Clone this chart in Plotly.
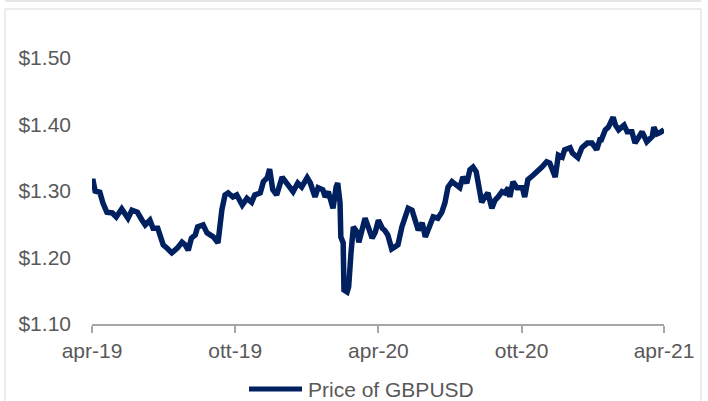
import plotly.graph_objects as go

# ---- data ----
dates = [
    "2019-04-01", "2019-04-02", "2019-04-05", "2019-04-11", "2019-04-15", "2019-04-20",
    "2019-04-27", "2019-05-02", "2019-05-09", "2019-05-17", "2019-05-22", "2019-05-29",
    "2019-06-04", "2019-06-08", "2019-06-14", "2019-06-18", "2019-06-24", "2019-07-01",
    "2019-07-06", "2019-07-12", "2019-07-19", "2019-07-25", "2019-07-29", "2019-08-02",
    "2019-08-06", "2019-08-11", "2019-08-14", "2019-08-21", "2019-08-26", "2019-09-03",
    "2019-09-09", "2019-09-12", "2019-09-14", "2019-09-18", "2019-09-22", "2019-09-28",
    "2019-10-03", "2019-10-10", "2019-10-16", "2019-10-22", "2019-10-26", "2019-11-02",
    "2019-11-06", "2019-11-11", "2019-11-14", "2019-11-18", "2019-11-23", "2019-11-30",
    "2019-12-05", "2019-12-10", "2019-12-14", "2019-12-20", "2019-12-25", "2020-01-01",
    "2020-01-05", "2020-01-11", "2020-01-15", "2020-01-21", "2020-01-24", "2020-01-28",
    "2020-02-03", "2020-02-07", "2020-02-09", "2020-02-12", "2020-02-13", "2020-02-16",
    "2020-02-17", "2020-02-21", "2020-02-23", "2020-02-26", "2020-02-29", "2020-03-05",
    "2020-03-07", "2020-03-11", "2020-03-15", "2020-03-19", "2020-03-24", "2020-03-28",
    "2020-04-01", "2020-04-06", "2020-04-09", "2020-04-13", "2020-04-18", "2020-04-22",
    "2020-04-26", "2020-05-01", "2020-05-05", "2020-05-09", "2020-05-14", "2020-05-18",
    "2020-05-22", "2020-05-27", "2020-05-31", "2020-06-06", "2020-06-10", "2020-06-16",
    "2020-06-21", "2020-06-25", "2020-06-29", "2020-07-04", "2020-07-10", "2020-07-14",
    "2020-07-18", "2020-07-23", "2020-07-27", "2020-07-31", "2020-08-04", "2020-08-06",
    "2020-08-11", "2020-08-15", "2020-08-19", "2020-08-24", "2020-08-28", "2020-09-01",
    "2020-09-06", "2020-09-10", "2020-09-14", "2020-09-16", "2020-09-20", "2020-09-25",
    "2020-10-02", "2020-10-05", "2020-10-09", "2020-10-16", "2020-10-21", "2020-10-27",
    "2020-11-02", "2020-11-06", "2020-11-13", "2020-11-17", "2020-11-22", "2020-11-25",
    "2020-12-02", "2020-12-05", "2020-12-12", "2020-12-17", "2020-12-24", "2020-12-30",
    "2021-01-05", "2021-01-09", "2021-01-11", "2021-01-16", "2021-01-20", "2021-01-26",
    "2021-01-29", "2021-02-02", "2021-02-06", "2021-02-09", "2021-02-13", "2021-02-19",
    "2021-02-23", "2021-02-27", "2021-03-04", "2021-03-10", "2021-03-17", "2021-03-19",
    "2021-03-23", "2021-03-27", "2021-04-01",
]
price_gbpusd = [
    1.312, 1.318, 1.300, 1.298, 1.282, 1.268,
    1.267, 1.261, 1.273, 1.259, 1.271, 1.268,
    1.256, 1.249, 1.256, 1.244, 1.244, 1.219,
    1.214, 1.207, 1.214, 1.223, 1.219, 1.211,
    1.229, 1.234, 1.246, 1.249, 1.237, 1.231,
    1.222, 1.267, 1.272, 1.294, 1.297, 1.291,
    1.294, 1.279, 1.289, 1.283, 1.294, 1.297,
    1.314, 1.320, 1.333, 1.302, 1.294, 1.321,
    1.313, 1.306, 1.299, 1.312, 1.306, 1.320,
    1.312, 1.291, 1.305, 1.302, 1.291, 1.299,
    1.274, 1.306, 1.312, 1.282, 1.231, 1.222,
    1.151, 1.148, 1.156, 1.207, 1.246, 1.238,
    1.223, 1.241, 1.259, 1.246, 1.229, 1.238,
    1.256, 1.244, 1.241, 1.234, 1.213, 1.216,
    1.219, 1.246, 1.261, 1.274, 1.271, 1.253,
    1.241, 1.252, 1.231, 1.249, 1.261, 1.259,
    1.268, 1.282, 1.306, 1.314, 1.309, 1.305,
    1.321, 1.312, 1.332, 1.336, 1.329, 1.312,
    1.283, 1.291, 1.297, 1.274, 1.286, 1.291,
    1.299, 1.297, 1.305, 1.291, 1.314, 1.305,
    1.305, 1.291, 1.317, 1.324, 1.329, 1.336,
    1.344, 1.342, 1.321, 1.354, 1.351, 1.362,
    1.365, 1.357, 1.350, 1.365, 1.372, 1.372,
    1.362, 1.377, 1.377, 1.392, 1.396, 1.411,
    1.399, 1.392, 1.396, 1.399, 1.389, 1.389,
    1.372, 1.380, 1.389, 1.374, 1.382, 1.396,
    1.386, 1.388, 1.392,
]
tick_vals = ["2019-04-01", "2019-10-01", "2020-04-01", "2020-10-01", "2021-04-01"]
tick_text = ["apr-19", "ott-19", "apr-20", "ott-20", "apr-21"]
y_ticks = [1.10, 1.20, 1.30, 1.40, 1.50]
y_tick_text = ["$1.10", "$1.20", "$1.30", "$1.40", "$1.50"]
series_name = "Price of GBPUSD"

# ---- layout geometry ----
W, H = 708, 401
L, R, T, B = 92, 44, 58, 77
PW, PH = W - L - R, H - T - B


def px(p):
    return (p - L) / PW


def py(p):
    return (H - B - p) / PH


NAVY = "#002060"
GREY_TXT = "#595959"
FONT = "Liberation Sans, Arial, sans-serif"

fig = go.Figure()
fig.add_trace(go.Scatter(
    x=dates, y=price_gbpusd, mode="lines", name=series_name,
    line=dict(color=NAVY, width=5.5), showlegend=False,
))

fig.update_layout(
    width=W, height=H,
    margin=dict(l=L, r=R, t=T, b=B, pad=0, autoexpand=False),
    paper_bgcolor="white", plot_bgcolor="white",
    font=dict(family=FONT, size=21, color=GREY_TXT),
    xaxis=dict(
        type="date", range=[tick_vals[0], tick_vals[-1]], automargin=False,
        tickmode="array", tickvals=tick_vals, ticktext=tick_text,
        showgrid=False, zeroline=False,
        showline=True, linecolor="#A6A6A6", linewidth=1.5,
        ticks="outside", ticklen=7, tickcolor="#A6A6A6", tickwidth=1.5,
        tickfont=dict(family=FONT, size=21, color=GREY_TXT),
    ),
    yaxis=dict(
        range=[1.10, 1.50], tickmode="array", tickvals=y_ticks, ticktext=y_tick_text,
        automargin=False,
        showgrid=False, zeroline=False, showline=False, ticks="",
        ticklabelstandoff=20,
        tickfont=dict(family=FONT, size=21, color=GREY_TXT),
    ),
    shapes=[
        # outer chart border
        dict(type="rect", xref="paper", yref="paper",
             x0=px(5), x1=px(701), y0=py(410), y1=py(9),
             line=dict(color="#DADADA", width=1), fillcolor="rgba(0,0,0,0)", layer="below"),
        # thin band at top
        dict(type="rect", xref="paper", yref="paper",
             x0=px(5), x1=px(701), y0=py(2), y1=py(0),
             line=dict(width=0), fillcolor="#E3E7E5", layer="below"),
        # legend line
        dict(type="line", xref="paper", yref="paper",
             x0=px(249), x1=px(302), y0=py(389), y1=py(389),
             line=dict(color=NAVY, width=5)),
    ],
    annotations=[
        dict(text=series_name, xref="paper", yref="paper",
             x=px(306), y=py(389), xanchor="left", yanchor="middle",
             showarrow=False, font=dict(family=FONT, size=21, color=GREY_TXT)),
    ],
)

fig.write_html(
    "out.html",
    config={"displayModeBar": False},
    post_script="document.body.style.margin='0';document.body.style.overflow='hidden';",
)
